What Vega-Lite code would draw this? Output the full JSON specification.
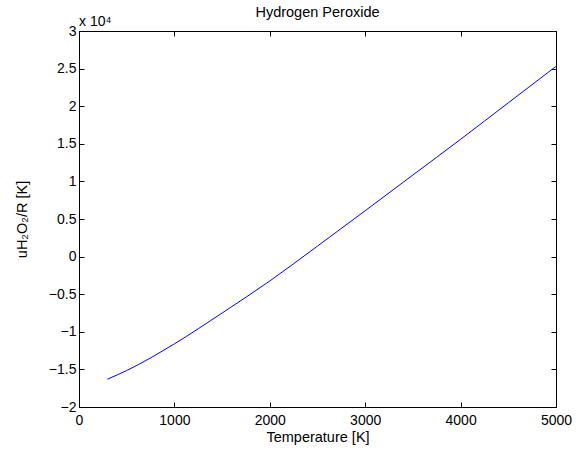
{
  "$schema": "https://vega.github.io/schema/vega-lite/v6.json",
  "width": 477,
  "height": 376,
  "autosize": {"type": "none"},
  "padding": {"left": 79, "top": 31, "right": 24, "bottom": 47},
  "background": "white",
  "title": {"text": "Hydrogen Peroxide", "font": "Liberation Sans", "fontSize": 14.5, "fontWeight": "normal", "color": "black", "offset": -5},
  "config": {
    "view": {"stroke": "black", "strokeWidth": 1},
    "axis": {
      "labelFont": "Liberation Sans", "labelFontSize": 14, "labelColor": "black",
      "titleFont": "Liberation Sans", "titleFontSize": 14.5, "titleFontWeight": "normal", "titleColor": "black",
      "domainColor": "black", "tickColor": "black", "tickSize": -5, "grid": false
    }
  },
  "data": {"values": [
    {"T": 298, "u": -16300},
    {"T": 500, "u": -15150},
    {"T": 1000, "u": -11600},
    {"T": 1500, "u": -7500},
    {"T": 2000, "u": -3240},
    {"T": 2500, "u": 1400},
    {"T": 3000, "u": 6100},
    {"T": 3500, "u": 10850},
    {"T": 4000, "u": 15600},
    {"T": 4500, "u": 20450},
    {"T": 5000, "u": 25300}
  ]},
  "layer": [
    {
      "mark": {"type": "line", "color": "#0000ff", "strokeWidth": 1, "interpolate": "monotone"},
      "encoding": {
        "x": {"field": "T", "type": "quantitative", "scale": {"domain": [0, 5000], "nice": false, "zero": false},
              "axis": {"title": "Temperature [K]", "values": [0, 1000, 2000, 3000, 4000, 5000], "format": "d", "labelPadding": 11, "titlePadding": 3, "labelFlush": false}},
        "y": {"field": "u", "type": "quantitative", "scale": {"domain": [-20000, 30000], "nice": false, "zero": false},
              "axis": {"title": "uH₂O₂/R [K]", "values": [-20000, -15000, -10000, -5000, 0, 5000, 10000, 15000, 20000, 25000, 30000],
                       "labelExpr": "format(datum.value/10000, '~g')", "labelPadding": 8, "titlePadding": 19}}
      }
    },
    {
      "mark": {"type": "line", "opacity": 0},
      "encoding": {
        "x": {"field": "T", "type": "quantitative",
              "axis": {"orient": "top", "title": null, "labels": false, "domain": false, "values": [0, 1000, 2000, 3000, 4000, 5000]}},
        "y": {"field": "u", "type": "quantitative",
              "axis": {"orient": "right", "title": null, "labels": false, "domain": false, "values": [-20000, -15000, -10000, -5000, 0, 5000, 10000, 15000, 20000, 25000, 30000]}}
      }
    },
    {
      "data": {"values": [{"label": "x 10⁴"}]},
      "mark": {"type": "text", "align": "left", "baseline": "bottom", "dy": -2, "font": "Liberation Sans", "fontSize": 14, "color": "black"},
      "encoding": {
        "x": {"datum": 0, "type": "quantitative", "axis": null},
        "y": {"datum": 30000, "type": "quantitative", "axis": null},
        "text": {"field": "label"}
      }
    }
  ],
  "resolve": {"axis": {"x": "independent", "y": "independent"}}
}
